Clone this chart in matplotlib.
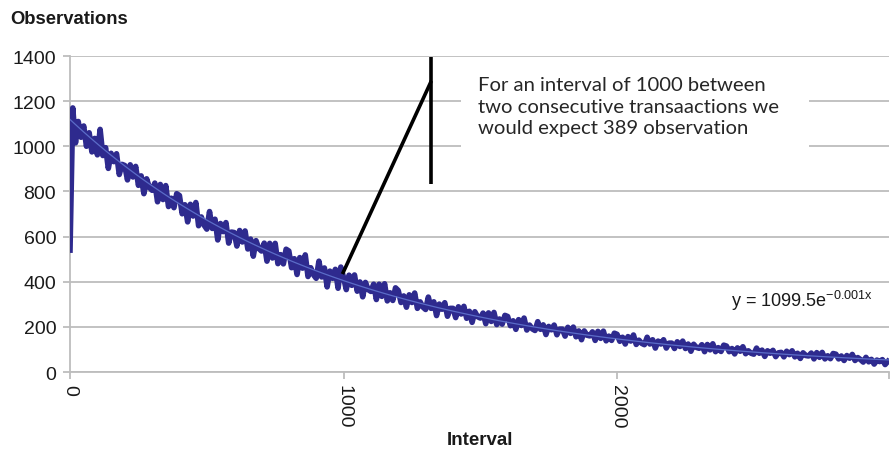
import numpy as np
import matplotlib
matplotlib.use("Agg")
import matplotlib.pyplot as plt
from matplotlib.patches import Rectangle

plt.rcParams['font.family'] = ['Liberation Sans', 'DejaVu Sans']
plt.rcParams['mathtext.default'] = 'regular'
plt.rcParams['path.simplify'] = False

# observed counts, one value every 10 interval units (0 .. 2990)
step = 10
obs = [
    540, 1170, 1015, 1110, 1040, 1090, 1000, 1060, 975, 1035,
    962, 1075, 959, 994, 902, 969, 932, 967, 875, 920,
    915, 851, 918, 864, 911, 827, 869, 790, 856, 818,
    805, 837, 754, 831, 764, 826, 733, 770, 728, 790,
    782, 701, 741, 665, 743, 691, 751, 648, 687, 651,
    633, 711, 636, 677, 585, 658, 622, 662, 571, 620,
    618, 558, 627, 576, 625, 545, 589, 513, 582, 547,
    536, 571, 491, 570, 505, 570, 480, 520, 479, 544,
    536, 462, 502, 432, 507, 460, 519, 423, 462, 431,
    415, 491, 421, 461, 377, 447, 415, 455, 371, 465,
    419, 365, 429, 384, 430, 358, 399, 333, 397, 365,
    357, 389, 321, 389, 335, 391, 315, 351, 317, 373,
    361, 308, 337, 287, 342, 308, 350, 282, 311, 288,
    277, 332, 282, 311, 250, 301, 278, 307, 247, 282,
    282, 241, 289, 257, 291, 238, 269, 220, 267, 245,
    239, 261, 214, 262, 224, 264, 210, 235, 212, 251,
    246, 205, 227, 189, 232, 206, 239, 186, 208, 191,
    184, 223, 189, 209, 166, 202, 187, 208, 165, 190,
    190, 159, 198, 171, 199, 156, 182, 143, 182, 163,
    160, 178, 140, 180, 149, 181, 138, 159, 140, 172,
    167, 136, 154, 124, 157, 137, 164, 122, 141, 127,
    121, 154, 124, 143, 106, 137, 124, 143, 106, 128,
    128, 104, 134, 113, 137, 104, 124, 92, 123, 109,
    105, 121, 90, 122, 98, 125, 90, 108, 91, 119,
    115, 90, 104, 80, 107, 92, 112, 81, 94, 83,
    79, 106, 83, 97, 69, 94, 83, 96, 68, 85,
    87, 67, 92, 77, 94, 67, 83, 60, 85, 73,
    71, 84, 58, 86, 65, 87, 58, 72, 59, 82,
    79, 58, 71, 51, 73, 61, 78, 51, 64, 55,
    44, 65, 45, 56, 35, 53, 46, 55, 33, 47,
]
interval = np.arange(len(obs)) * step

xticks = [0, 1000, 2000]
yticks = [0, 200, 400, 600, 800, 1000, 1200, 1400]

note = "For an interval of 1000 between\ntwo consecutive transaactions we\nwould expect 389 observation"
eq_label = "y = 1099.5e$^{-0.001x}$"

# callout geometry (data units)
bar_x, bar_y0, bar_y1 = 1321, 835, 1395
arrow_from = (1321, 1290)
arrow_to = (996, 434)

# exponential trendline, fitted on log counts
b, log_a = np.polyfit(interval[1:], np.log(obs[1:]), 1)
xs = np.linspace(0, 2995, 300)
trend = np.exp(log_a) * np.exp(b * xs)

fig = plt.figure(figsize=(8.91, 4.56), dpi=100)
ax = fig.add_axes([0.0786, 0.182, 0.9194, 0.693])

ax.plot(interval, obs, color='#2e2a8e', lw=4.0, solid_joinstyle='round', zorder=3)
ax.plot(xs, trend, color='#5b6cc8', lw=0.9, zorder=4)

ax.set_xlim(0, 2995)
ax.set_ylim(0, 1400)
ax.set_yticks(yticks)
ax.set_xticks(xticks + [2995])
ax.set_xticklabels([str(t) for t in xticks] + [''], rotation=-90)
ax.grid(axis='y', color='#bdbdbd', lw=1.3, zorder=0)
ax.set_axisbelow(True)
for s in ['top', 'right']:
    ax.spines[s].set_visible(False)
for s in ['left', 'bottom']:
    ax.spines[s].set_color('#bdbdbd')
    ax.spines[s].set_linewidth(1.3)
ax.tick_params(axis='both', colors='#bdbdbd', length=5, width=1.3,
               labelsize=14, labelcolor='#1a1a1a')
ax.tick_params(axis='y', pad=5)

fig.text(0.011, 0.958, "Observations", fontsize=13.3, fontweight='bold',
         va='center', ha='left', color='#1a1a1a')
fig.text(0.539, 0.035, "Interval", fontsize=13.5, fontweight='bold',
         va='center', ha='center', color='#1a1a1a')

# white box behind the note
ax.add_patch(Rectangle((1431, 940), 1270, 440, facecolor='white',
                       edgecolor='none', zorder=1))
ax.text(1490, 1178, note, fontsize=14.6, family=['Lato', 'DejaVu Sans'],
        color='#262626', va='center', ha='left', linespacing=1.3, zorder=5)

ax.plot([bar_x, bar_x], [bar_y0, bar_y1], color='black', lw=2.6, zorder=6,
        clip_on=False, solid_capstyle='butt')
ax.plot([arrow_from[0], arrow_to[0]], [arrow_from[1], arrow_to[1]],
        color='black', lw=2.6, zorder=6, solid_capstyle='butt')

ax.text(2416, 318, eq_label, fontsize=13, color='#1a1a1a', va='center', ha='left')

fig.savefig("out.png", dpi=100)
